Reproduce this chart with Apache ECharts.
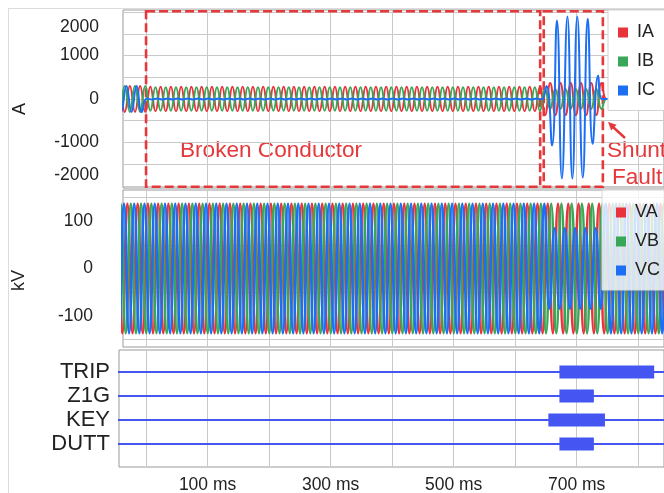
<!DOCTYPE html>
<html>
<head>
<meta charset="utf-8">
<script src="https://cdn.jsdelivr.net/npm/echarts@6.0.0/dist/echarts.min.js"></script>
<style>
  html, body { margin: 0; padding: 0; background: #fff; }
  #main { width: 664px; height: 493px; }
</style>
</head>
<body>
<div id="main"></div>
<script>
// 60 Hz event record, time in ms
const periodMs = 1000 / 60;
const timeMin = -44;
const timeMax = 850;

// peak value per time span: [from ms, to ms, peak]
const iaEnvelope = [[-60, 0, 300], [0, 646, 285], [646, 742, 370]];
const ibEnvelope = [[-60, 0, 300], [0, 646, 270], [646, 742, 230]];
const icEnvelope = [[-60, -3, 300], [-3, 648, 12]];
// IC peaks during the shunt fault [ms, A]
const icFault = [[651, 300], [660, -1070], [668, 1810], [676, -1830], [685, 1900], [693, -1830],
  [701, 1900], [710, -1810], [718, 1850], [726, -1030], [735, 540], [741, 0]];

const vaEnvelope = [[-60, 850, 137]];
const vbEnvelope = [[-60, 850, 137]];
const vcEnvelope = [[-60, 652, 137], [652, 742, 85], [742, 850, 137]];

// time of a positive peak for each channel (phase)
const iaPeak0 = 7, ibPeak0 = 15.3, icPeak0 = 1.3;
const vaPeak0 = 3, vbPeak0 = 8.6, vcPeak0 = 14.1;

// digital channels, asserted spans [on ms, off ms]
const digitalNames = ['DUTT', 'KEY', 'Z1G', 'TRIP'];
const digitalOn = [[672, 728], [654, 746], [672, 728], [672, 826]];

const xTicks = [0, 100, 200, 300, 400, 500, 600, 700, 800];
const xLabels = [100, 300, 500, 700];
const ampTicks = [-2000, -1500, -1000, -500, 0, 500, 1000, 1500, 2000];
const ampLabels = [-2000, -1000, 0, 1000, 2000];
const kvTicks = [-150, -50, 50, 150];
const kvLabels = [-100, 0, 100];

const red = '#e8333a', green = '#3aa657', blue = '#1c6ef3', digBlue = '#4555f2';
const annoRed = '#e5383b';

// build a trace from its peaks (smoothed line through the extremes)
function wave(peak0, envelope, overrides) {
  overrides = overrides || [];
  const half = periodMs / 2;
  const pts = [];
  let k = Math.floor((timeMin - peak0) / half) - 1;
  for (let t = peak0 + k * half; t <= timeMax + half; k++, t = peak0 + k * half) {
    if (overrides.length && t > overrides[0][0] - 3 && t < overrides[overrides.length - 1][0] + 3) continue;
    const seg = envelope.find(s => t >= s[0] && t < s[1]);
    const amp = seg ? seg[2] : 0;
    pts.push([t, k % 2 === 0 ? amp : -amp]);
  }
  return pts.concat(overrides).sort((a, b) => a[0] - b[0]);
}

const chart = echarts.init(document.getElementById('main'));

const labelFont = { fontFamily: 'Liberation Sans', fontSize: 17.5, color: '#222' };

function xAxisFor(gridIndex, min, showLabels) {
  return {
    type: 'value', gridIndex, min, max: 842,
    axisLine: { show: false },
    axisTick: { show: false, customValues: xTicks },
    splitLine: { show: true, lineStyle: { color: '#c9c9c9', width: 1 } },
    axisLabel: showLabels ? Object.assign({
      customValues: xLabels, formatter: '{value} ms', margin: 9
    }, labelFont) : { show: false }
  };
}

function traceSeries(name, color, data, xi, width) {
  return {
    name, type: 'line', xAxisIndex: xi, yAxisIndex: xi, data,
    smooth: true, showSymbol: false, symbol: 'none', silent: true,
    lineStyle: { color, width }, itemStyle: { color }
  };
}

const series = [
  Object.assign(traceSeries('IA', red, wave(iaPeak0, iaEnvelope), 0, 2), {
    markArea: {
      silent: true,
      itemStyle: { color: 'rgba(0,0,0,0)', borderColor: annoRed, borderWidth: 2.6, borderType: [9, 4] },
      data: [
        [{ xAxis: 0, yAxis: 2020 }, { xAxis: 640.7, yAxis: -2020 }],
        [{ xAxis: 646.5, yAxis: 2020 }, { xAxis: 742.6, yAxis: -2020 }]
      ]
    }
  }),
  traceSeries('IB', green, wave(ibPeak0, ibEnvelope), 0, 2),
  traceSeries('IC', blue, wave(icPeak0, icEnvelope, icFault), 0, 2),
  traceSeries('VA', red, wave(vaPeak0, vaEnvelope), 1, 2.6),
  traceSeries('VB', green, wave(vbPeak0, vbEnvelope), 1, 2.6),
  traceSeries('VC', blue, wave(vcPeak0, vcEnvelope), 1, 2.6)
];

digitalNames.forEach((name, i) => {
  const level = i + 1;
  series.push({
    type: 'line', xAxisIndex: 2, yAxisIndex: 2, silent: true, symbol: 'none',
    data: [[timeMin - 10, level], [timeMax, level]],
    lineStyle: { color: digBlue, width: 2 }
  });
  series.push({
    type: 'line', xAxisIndex: 2, yAxisIndex: 2, silent: true, symbol: 'none',
    data: [[digitalOn[i][0], level], [digitalOn[i][1], level]],
    lineStyle: { color: digBlue, width: 13, cap: 'butt' }
  });
});

const legendBase = {
  orient: 'vertical', icon: 'rect', itemWidth: 10, itemHeight: 10, itemGap: 11,
  selectedMode: false,
  textStyle: { fontFamily: 'Liberation Sans', fontSize: 18, color: '#222', lineHeight: 18, padding: [0, 0, 0, 4] }
};

const option = {
  animation: false,
  backgroundColor: '#fff',
  grid: [
    { left: 123, top: 10, width: 541, height: 178, show: true, borderColor: '#9a9a9a', borderWidth: 1, backgroundColor: '#fff', containLabel: false, outerBoundsMode: 'none' },
    { left: 123, top: 190, width: 541, height: 157, show: true, borderColor: '#9a9a9a', borderWidth: 1, backgroundColor: '#fff', containLabel: false, outerBoundsMode: 'none' },
    { left: 119, top: 350, width: 545, height: 117, show: true, borderColor: '#9a9a9a', borderWidth: 1, backgroundColor: '#fff', containLabel: false, outerBoundsMode: 'none' }
  ],
  xAxis: [
    xAxisFor(0, -37.5, false),
    xAxisFor(1, -37.5, false),
    xAxisFor(2, -44, true)
  ],
  yAxis: [
    {
      type: 'value', gridIndex: 0, min: -2050, max: 2050,
      name: 'A', nameLocation: 'middle', nameGap: 94,
      nameTextStyle: { fontFamily: 'Liberation Sans', fontSize: 18, color: '#222', padding: [0, 20, 0, 0] },
      axisLine: { show: false },
      axisTick: { show: false, customValues: ampTicks },
      splitLine: { show: true, lineStyle: { color: '#c9c9c9', width: 1 } },
      axisLabel: Object.assign({
        customValues: ampLabels, margin: 24,
        formatter: v => v === 2000 ? '{hi|2000}' : v === -2000 ? '{lo|-2000}' : String(v),
        rich: {
          hi: { fontFamily: 'Liberation Sans', fontSize: 17.5, color: '#222', padding: [30, 0, 0, 0] },
          lo: { fontFamily: 'Liberation Sans', fontSize: 17.5, color: '#222', padding: [0, 0, 22, 0] }
        }
      }, labelFont)
    },
    {
      type: 'value', gridIndex: 1, min: -166, max: 166,
      name: 'kV', nameLocation: 'middle', nameGap: 95,
      nameTextStyle: { fontFamily: 'Liberation Sans', fontSize: 18, color: '#222', padding: [0, 24, 0, 0] },
      axisLine: { show: false },
      axisTick: { show: false, customValues: kvTicks },
      splitLine: { show: true, lineStyle: { color: '#c9c9c9', width: 1 } },
      axisLabel: Object.assign({ customValues: kvLabels, margin: 30 }, labelFont)
    },
    {
      type: 'value', gridIndex: 2, min: 0.04, max: 4.92,
      axisLine: { show: false },
      axisTick: { show: false },
      splitLine: { show: false },
      axisLabel: {
        customValues: [1, 2, 3, 4], margin: 9,
        formatter: v => digitalNames[Math.round(v) - 1],
        fontFamily: 'Liberation Sans', fontSize: 22, color: '#222'
      }
    }
  ],
  legend: [
    Object.assign({}, legendBase, {
      data: ['IA', 'IB', 'IC'], left: 608, top: 10,
      padding: [13.5, 40, 11, 10],
      backgroundColor: '#fff', borderColor: '#d2d2d2', borderWidth: 1
    }),
    Object.assign({}, legendBase, {
      data: ['VA', 'VB', 'VC'], left: 602, top: 190,
      padding: [13.5, 40, 10.5, 14],
      backgroundColor: 'rgba(255,255,255,0.8)', borderColor: '#dadada', borderWidth: 1
    })
  ],
  graphic: [
    { type: 'line', silent: true, shape: { x1: 8, y1: 8.5, x2: 664, y2: 8.5 }, style: { stroke: '#dcdcdc', lineWidth: 1 } },
    { type: 'line', silent: true, shape: { x1: 8.5, y1: 8, x2: 8.5, y2: 493 }, style: { stroke: '#dcdcdc', lineWidth: 1 } },
    { type: 'text', silent: true, left: 180, top: 139, style: { text: 'Broken Conductor', fill: annoRed, font: '22.6px "Liberation Sans"' } },
    { type: 'text', silent: true, left: 607, top: 139, style: { text: 'Shunt', fill: annoRed, font: '22.6px "Liberation Sans"' } },
    { type: 'text', silent: true, left: 612, top: 166, style: { text: 'Fault', fill: annoRed, font: '22.6px "Liberation Sans"' } },
    { type: 'line', silent: true, shape: { x1: 625, y1: 138, x2: 613, y2: 127 }, style: { stroke: annoRed, lineWidth: 2.5 } },
    { type: 'polygon', silent: true, shape: { points: [[608, 122], [616.5, 124.8], [611.2, 130.4]] }, style: { fill: annoRed } }
  ],
  series
};

chart.setOption(option);
</script>
</body>
</html>
